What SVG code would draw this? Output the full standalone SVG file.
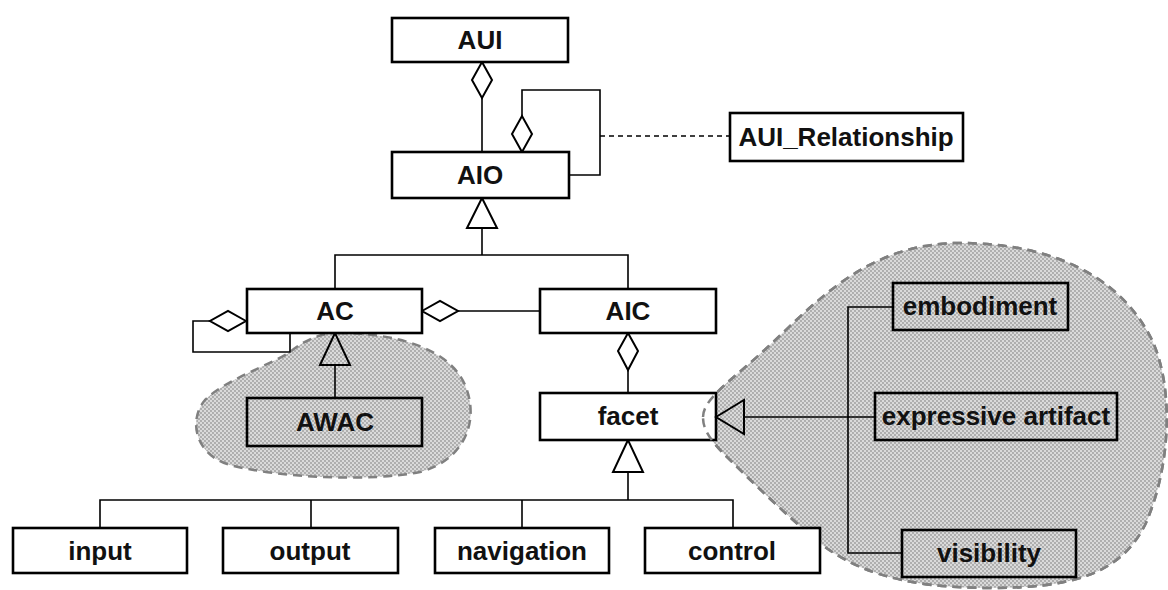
<svg xmlns="http://www.w3.org/2000/svg" width="1168" height="590" viewBox="0 0 1168 590">
<defs>
<pattern id="dots" width="4" height="4" patternUnits="userSpaceOnUse">
<rect width="4" height="4" fill="#dadada"/>
<circle cx="1" cy="1" r="0.9" fill="#9a9a9a"/>
<circle cx="3" cy="3" r="0.9" fill="#9a9a9a"/>
</pattern>
<path id="rblob" d="M 703 417 C 703 398 735 378 770 345 C 820 298 870 243 960 243 C 1050 243 1120 275 1152 340 C 1175 390 1170 470 1145 525 C 1120 575 1070 588 990 588 C 900 588 850 570 810 535 C 770 500 740 470 722 452 C 708 437 703 428 703 417 Z"/>
</defs>
<style>
.box{fill:#fff;stroke:#000;stroke-width:2.6}
.sbox{fill:none;stroke:#000;stroke-width:2.6}
.lbl{font-family:"Liberation Sans",Arial,sans-serif;font-weight:bold;font-size:26px;text-anchor:middle;fill:#111}
.ln{fill:none;stroke:#000;stroke-width:1.6}
.dia{fill:#fff;stroke:#000;stroke-width:2}
.tri{fill:#fff;stroke:#000;stroke-width:2}
.trin{fill:none;stroke:#000;stroke-width:2}
.blob{fill:url(#dots);stroke:#808080;stroke-width:2.5;stroke-dasharray:9 6}
.blobline{fill:none;stroke:#808080;stroke-width:2.5;stroke-dasharray:9 6}
</style>
<rect width="1168" height="590" fill="#fff"/>
<g id="blobs">
<path class="blob" d="M 338 333 C 400 333 450 350 465 385 C 480 420 465 460 420 472 C 370 482 280 478 230 465 C 195 455 188 420 205 400 C 225 380 270 365 290 352 C 305 340 320 333 338 333 Z"/>
<use href="#rblob" class="blob"/>
</g>
<g id="connectors">
<line class="ln" x1="482" y1="98" x2="482" y2="152"/>
<polygon class="dia" points="482,62 492,80 482,98 472,80"/>
<polyline class="ln" points="522,116 522,90 600,90 600,175 569,175"/>
<polygon class="dia" points="522,152 512,134 522,116 532,134"/>
<line class="ln" x1="600" y1="136" x2="730" y2="136" stroke-dasharray="5 4"/>
<polyline class="ln" points="482,228 482,255"/>
<polyline class="ln" points="335,289 335,255 628,255 628,289"/>
<polygon class="tri" points="482,198 467,228 497,228"/>
<line class="ln" x1="458" y1="311" x2="540" y2="311"/>
<polygon class="dia" points="422,311 440,301 458,311 440,321"/>
<polyline class="ln" points="210,321 193,321 193,352 290,352 290,333"/>
<polygon class="dia" points="246,321 228,311 210,321 228,331"/>
<line class="ln" x1="335" y1="365" x2="335" y2="398"/>
<polygon class="trin" points="335,333 320,365 350,365"/>
<line class="ln" x1="628" y1="370" x2="628" y2="393"/>
<polygon class="dia" points="628,333 638,351 628,370 618,351"/>
<line class="ln" x1="628" y1="472" x2="628" y2="500"/>
<polyline class="ln" points="100,528 100,500 733,500 733,528"/>
<line class="ln" x1="311" y1="500" x2="311" y2="528"/>
<line class="ln" x1="522" y1="500" x2="522" y2="528"/>
<polygon class="tri" points="628,440 613,472 643,472"/>
<line class="ln" x1="744" y1="417" x2="875" y2="417"/>
<polyline class="ln" points="893,307 848,307 848,553 902,553"/>
</g>
<g id="AUI"><rect class="box" x="392" y="18" width="176" height="44"/><text class="lbl" x="480" y="49">AUI</text></g>
<g id="AIO"><rect class="box" x="392" y="152" width="177" height="46"/><text class="lbl" x="480" y="184">AIO</text></g>
<g id="AUI_Relationship"><rect class="box" x="730" y="113" width="233" height="48"/><text class="lbl" x="846" y="146">AUI_Relationship</text></g>
<g id="AC"><rect class="box" x="247" y="289" width="175" height="44"/><text class="lbl" x="335" y="320">AC</text></g>
<g id="AIC"><rect class="box" x="540" y="289" width="176" height="44"/><text class="lbl" x="628" y="320">AIC</text></g>
<g id="AWAC"><rect class="sbox" x="247" y="398" width="175" height="48"/><text class="lbl" x="335" y="431">AWAC</text></g>
<g id="facet"><rect class="box" x="540" y="393" width="176" height="47"/><text class="lbl" x="628" y="425">facet</text></g>
<use href="#rblob" class="blobline"/>
<polygon class="trin" points="716,417 744,400 744,434"/>
<g id="embodiment"><rect class="sbox" x="893" y="283" width="175" height="47"/><text class="lbl" x="980" y="315">embodiment</text></g>
<g id="expressive_artifact"><rect class="sbox" x="875" y="393" width="242" height="47"/><text class="lbl" x="996" y="425">expressive artifact</text></g>
<g id="visibility"><rect class="sbox" x="902" y="530" width="174" height="47"/><text class="lbl" x="989" y="562">visibility</text></g>
<g id="input"><rect class="box" x="13" y="528" width="174" height="45"/><text class="lbl" x="100" y="560">input</text></g>
<g id="output"><rect class="box" x="223" y="528" width="175" height="45"/><text class="lbl" x="310" y="560">output</text></g>
<g id="navigation"><rect class="box" x="435" y="528" width="174" height="45"/><text class="lbl" x="522" y="560">navigation</text></g>
<g id="control"><rect class="box" x="645" y="528" width="175" height="45"/><text class="lbl" x="732" y="560">control</text></g>
</svg>
